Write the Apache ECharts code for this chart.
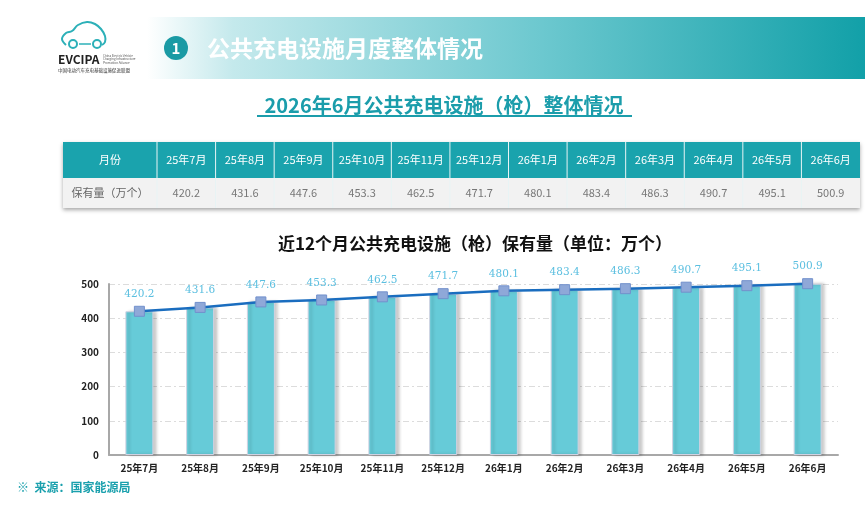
<!DOCTYPE html>
<html>
<head>
<meta charset="utf-8">
<script src="https://cdn.jsdelivr.net/npm/echarts@6/dist/echarts.min.js"></script>
<style>
  html, body { margin: 0; padding: 0; background: #fff; }
  #main { width: 865px; height: 511px; }
</style>
</head>
<body>
<div id="main"></div>
<script>
// 近12个月数据
var months = ['25年7月', '25年8月', '25年9月', '25年10月', '25年11月', '25年12月',
              '26年1月', '26年2月', '26年3月', '26年4月', '26年5月', '26年6月'];
var stock = [420.2, 431.6, 447.6, 453.3, 462.5, 471.7, 480.1, 483.4, 486.3, 490.7, 495.1, 500.9];
var tableHead = ['月份', '保有量（万个）'];

var FONT = '"Noto Sans CJK SC", sans-serif';
var TEAL = '#1aa3ad';

var myChart = echarts.init(document.getElementById('main'));

// 表格 (graphic 画)
var tableLeft = 63, firstW = 94, tableRight = 860;
var headTop = 142, headH = 36, rowH = 30;
var colW = (tableRight - tableLeft - firstW) / months.length;
var graphics = [];

graphics.push({
  type: 'rect', shape: { x: tableLeft, y: headTop, width: tableRight - tableLeft, height: headH + rowH },
  style: { fill: '#f2f2f2', shadowColor: 'rgba(0,0,0,0.35)', shadowBlur: 4, shadowOffsetY: 2 }
});
graphics.push({
  type: 'rect', shape: { x: tableLeft, y: headTop, width: tableRight - tableLeft, height: headH },
  style: { fill: TEAL }
});
graphics.push({
  type: 'text', style: { text: tableHead[0], x: tableLeft + firstW / 2, y: headTop + headH / 2,
    align: 'center', verticalAlign: 'middle', fill: '#fff', font: '11px ' + FONT }
});
graphics.push({
  type: 'text', style: { text: tableHead[1], x: tableLeft + firstW / 2, y: headTop + headH + rowH / 2,
    align: 'center', verticalAlign: 'middle', fill: '#666', font: '11px ' + FONT }
});
months.forEach(function (m, i) {
  var x0 = tableLeft + firstW + i * colW;
  graphics.push({
    type: 'line', shape: { x1: x0, y1: headTop, x2: x0, y2: headTop + headH + rowH },
    style: { stroke: '#e8f4f5', lineWidth: 1 }
  });
  graphics.push({
    type: 'text', style: { text: m, x: x0 + colW / 2, y: headTop + headH / 2,
      align: 'center', verticalAlign: 'middle', fill: '#fff', font: '11px ' + FONT }
  });
  graphics.push({
    type: 'text', style: { text: stock[i].toFixed(1), x: x0 + colW / 2, y: headTop + headH + rowH / 2,
      align: 'center', verticalAlign: 'middle', fill: '#777', font: '11px ' + FONT }
  });
});

// 顶部标题条
graphics.push({
  type: 'rect', shape: { x: 147, y: 17, width: 718, height: 62 },
  style: { fill: { type: 'linear', x: 0, y: 0, x2: 1, y2: 0, colorStops: [
    { offset: 0, color: '#ffffff' }, { offset: 0.12, color: '#c4e9ec' },
    { offset: 0.55, color: '#6cc8cf' }, { offset: 1, color: '#12a0a8' }] } }
});
graphics.push({ type: 'circle', shape: { cx: 176, cy: 48, r: 12 }, style: { fill: '#1a9aa4' } });
graphics.push({
  type: 'text', style: { text: '1', x: 176, y: 48, align: 'center', verticalAlign: 'middle',
    fill: '#fff', font: 'bold 15px ' + FONT }
});
graphics.push({
  type: 'text', style: { text: '公共充电设施月度整体情况', x: 207, y: 48, verticalAlign: 'middle',
    fill: '#fff', font: 'bold 23px ' + FONT }
});

// logo
graphics.push({
  type: 'polyline',
  shape: { points: [[66, 45], [62, 39], [66, 33], [72, 31], [78, 25], [87, 22], [95, 24], [101, 29], [105, 36], [105, 42], [102, 45]], smooth: 0.4 },
  style: { fill: 'none', stroke: '#2cb0b8', lineWidth: 2 }
});
graphics.push({ type: 'circle', shape: { cx: 73, cy: 44, r: 4 }, style: { fill: '#fff', stroke: '#2cb0b8', lineWidth: 2 } });
graphics.push({ type: 'circle', shape: { cx: 97, cy: 44, r: 4 }, style: { fill: '#fff', stroke: '#2cb0b8', lineWidth: 2 } });
graphics.push({ type: 'line', shape: { x1: 79, y1: 44, x2: 91, y2: 44 }, style: { stroke: '#2cb0b8', lineWidth: 1.5 } });
graphics.push({
  type: 'text', style: { text: 'EVCIPA', x: 58, y: 59, verticalAlign: 'middle', fill: '#222', font: 'bold 12px ' + FONT }
});
graphics.push({
  type: 'text', style: { text: 'China Electric Vehicle\nCharging Infrastructure\nPromotion Alliance', x: 103, y: 59,
    verticalAlign: 'middle', fill: '#555', font: '3px ' + FONT, lineHeight: 3.5 }
});
graphics.push({
  type: 'text', style: { text: '中国电动汽车充电基础设施促进联盟', x: 58, y: 70, verticalAlign: 'middle', fill: '#333', font: '4.5px ' + FONT }
});

// 副标题
graphics.push({
  type: 'text', style: { text: '2026年6月公共充电设施（枪）整体情况', x: 444, y: 105, align: 'center',
    verticalAlign: 'middle', fill: '#1b9dab', font: 'bold 20px ' + FONT }
});
graphics.push({ type: 'line', shape: { x1: 257, y1: 116, x2: 632, y2: 116 }, style: { stroke: '#1b9dab', lineWidth: 2 } });

// 来源
graphics.push({
  type: 'text', style: { text: '※  来源：国家能源局', x: 17, y: 487, verticalAlign: 'middle', fill: '#1aa0ad', font: 'bold 12px ' + FONT }
});

var option = {
  backgroundColor: '#fff',
  animation: false,
  title: {
    text: '近12个月公共充电设施（枪）保有量（单位：万个）',
    left: 470, top: 230, textAlign: 'center',
    textStyle: { fontFamily: FONT, fontSize: 17, fontWeight: 'bold', color: '#111' }
  },
  grid: { left: 109, right: 27, top: 284, bottom: 56 },
  xAxis: {
    type: 'category',
    data: months,
    axisLine: { lineStyle: { color: '#a8a8a8', width: 2 } },
    axisTick: { show: false },
    axisLabel: { fontFamily: FONT, fontSize: 10, fontWeight: 'bold', color: '#222', margin: 8 }
  },
  yAxis: {
    type: 'value',
    min: 0, max: 500, interval: 100,
    axisLine: { show: true, lineStyle: { color: '#a8a8a8', width: 2 } },
    axisTick: { show: false },
    axisLabel: { fontFamily: FONT, fontSize: 10, fontWeight: 'bold', color: '#222', margin: 10 },
    splitLine: { lineStyle: { color: '#dcdcdc', type: [6, 3, 2, 3] } }
  },
  series: [
    {
      type: 'bar',
      data: stock,
      barWidth: 28,
      clip: false,
      itemStyle: {
        color: '#66cbd8',
        borderColor: '#d0d2e2',
        borderWidth: 1,
        shadowColor: 'rgba(0,0,0,0.22)',
        shadowBlur: 3,
        shadowOffsetX: 3
      }
    },
    {
      type: 'line',
      data: stock,
      clip: false,
      symbol: 'rect',
      symbolSize: 10,
      lineStyle: { color: '#1a6dbf', width: 2.5 },
      itemStyle: { color: '#8fa8d8', borderColor: '#7290cc', borderWidth: 1 },
      label: {
        show: true, position: 'top', distance: 6,
        color: '#5bbfe0', fontSize: 10.5, fontFamily: '"DejaVu Serif", serif',
        formatter: function (p) { return p.value.toFixed(1); }
      },
      z: 5
    }
  ],
  graphic: graphics
};

myChart.setOption(option);
</script>
</body>
</html>
